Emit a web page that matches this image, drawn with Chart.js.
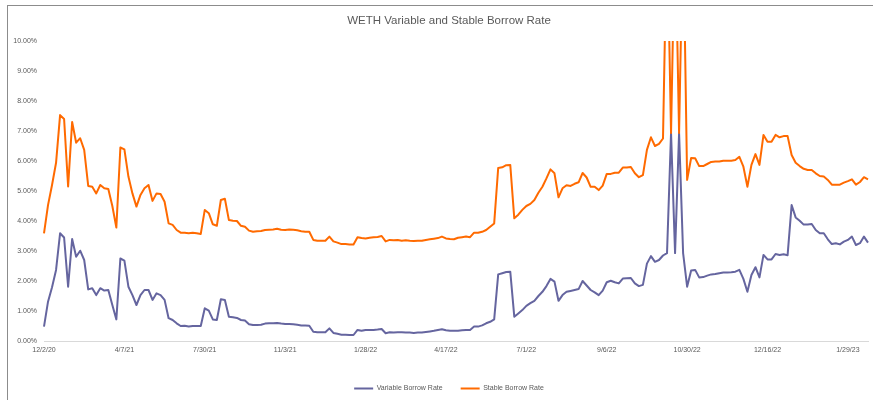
<!DOCTYPE html>
<html>
<head>
<meta charset="utf-8">
<script src="https://cdn.jsdelivr.net/npm/chart.js@4.4.0/dist/chart.umd.min.js"></script>
<style>
  html, body { margin: 0; padding: 0; background: #fff; overflow: hidden; width: 873px; height: 400px; }
  #wrap { position: absolute; left: 0; top: 0; width: 890px; height: 402px; }
  #frame { position: absolute; left: 7px; top: 5px; width: 900px; height: 420px; border: 1px solid #8c8c8c; pointer-events: none; }
</style>
</head>
<body>
<div id="wrap"><canvas id="rateChart" width="890" height="402"></canvas></div>
<div id="frame"></div>
<script>
// tick labels shown under the axis, one every STEP samples
const tickLabels = ["12/2/20", "4/7/21", "7/30/21", "11/3/21", "1/28/22", "4/17/22",
    "7/1/22", "9/6/22", "10/30/22", "12/16/22", "1/29/23"];
const STEP = 20;

// rates in %
const variableRate = [
    0.48, 1.31, 1.79, 2.37, 3.59, 3.45, 1.81, 3.40, 2.81, 3.01,
    2.70, 1.72, 1.76, 1.53, 1.76, 1.68, 1.70, 1.20, 0.72, 2.75,
    2.68, 1.81, 1.53, 1.20, 1.53, 1.70, 1.70, 1.37, 1.59, 1.53,
    1.37, 0.76, 0.70, 0.59, 0.50, 0.51, 0.48, 0.50, 0.50, 0.50,
    1.09, 1.01, 0.72, 0.70, 1.39, 1.37, 0.81, 0.79, 0.77, 0.70,
    0.68, 0.56, 0.53, 0.53, 0.54, 0.58, 0.59, 0.59, 0.60, 0.58,
    0.57, 0.57, 0.56, 0.54, 0.52, 0.52, 0.51, 0.31, 0.29, 0.29,
    0.29, 0.42, 0.27, 0.24, 0.21, 0.21, 0.20, 0.20, 0.37, 0.34,
    0.37, 0.37, 0.37, 0.38, 0.40, 0.26, 0.29, 0.28, 0.29, 0.29,
    0.28, 0.28, 0.27, 0.28, 0.28, 0.30, 0.32, 0.34, 0.37, 0.39,
    0.36, 0.34, 0.34, 0.34, 0.36, 0.37, 0.37, 0.48, 0.48, 0.52,
    0.59, 0.64, 0.72, 2.22, 2.26, 2.30, 2.31, 0.81, 0.92, 1.03,
    1.17, 1.26, 1.34, 1.50, 1.64, 1.83, 2.07, 1.98, 1.34, 1.53,
    1.64, 1.67, 1.70, 1.73, 2.00, 1.85, 1.70, 1.62, 1.53, 1.68,
    1.96, 2.01, 1.96, 1.92, 2.08, 2.09, 2.10, 1.92, 1.83, 1.87,
    2.58, 2.83, 2.64, 2.70, 2.85, 2.93, 6.93, 2.93, 6.93, 2.93,
    1.81, 2.35, 2.37, 2.12, 2.13, 2.18, 2.22, 2.23, 2.26, 2.28,
    2.28, 2.29, 2.31, 2.37, 2.07, 1.64, 2.20, 2.46, 2.12, 2.87,
    2.72, 2.72, 2.90, 2.87, 2.89, 2.86, 4.53, 4.12, 4.01, 3.88,
    3.88, 3.90, 3.70, 3.59, 3.59, 3.39, 3.23, 3.26, 3.22, 3.31,
    3.37, 3.48, 3.20, 3.26, 3.48, 3.28
];

const stableRate = [
    3.59, 4.53, 5.20, 5.94, 7.53, 7.40, 5.15, 7.30, 6.61, 6.76,
    6.37, 5.17, 5.14, 4.92, 5.20, 5.09, 5.07, 4.50, 3.78, 6.45,
    6.39, 5.48, 4.92, 4.48, 4.87, 5.09, 5.20, 4.67, 4.92, 4.90,
    4.64, 3.92, 3.87, 3.70, 3.61, 3.61, 3.59, 3.61, 3.59, 3.57,
    4.37, 4.26, 3.89, 3.84, 4.70, 4.74, 4.03, 4.01, 4.00, 3.84,
    3.81, 3.68, 3.64, 3.66, 3.67, 3.70, 3.71, 3.72, 3.74, 3.71,
    3.70, 3.72, 3.71, 3.69, 3.66, 3.64, 3.64, 3.37, 3.34, 3.34,
    3.34, 3.48, 3.32, 3.28, 3.23, 3.23, 3.22, 3.22, 3.46, 3.43,
    3.42, 3.44, 3.46, 3.47, 3.50, 3.32, 3.37, 3.36, 3.37, 3.34,
    3.36, 3.34, 3.33, 3.34, 3.34, 3.37, 3.39, 3.41, 3.43, 3.48,
    3.42, 3.40, 3.39, 3.44, 3.46, 3.48, 3.46, 3.61, 3.61, 3.64,
    3.70, 3.81, 3.92, 5.77, 5.79, 5.86, 5.87, 4.09, 4.21, 4.37,
    4.50, 4.57, 4.70, 4.94, 5.14, 5.42, 5.72, 5.59, 4.79, 5.09,
    5.19, 5.17, 5.24, 5.29, 5.60, 5.45, 5.14, 5.14, 5.03, 5.18,
    5.57, 5.57, 5.61, 5.61, 5.78, 5.78, 5.80, 5.59, 5.46, 5.53,
    6.37, 6.79, 6.50, 6.57, 6.75, 14.0, 6.93, 14.0, 6.93, 14.0,
    5.37, 6.10, 6.09, 5.83, 5.83, 5.90, 5.97, 5.98, 5.98, 6.01,
    6.01, 6.01, 6.03, 6.14, 5.81, 5.14, 5.87, 6.23, 5.87, 6.87,
    6.64, 6.64, 6.87, 6.79, 6.83, 6.83, 6.20, 5.94, 5.83, 5.74,
    5.70, 5.70, 5.59, 5.50, 5.48, 5.37, 5.21, 5.21, 5.21, 5.28,
    5.33, 5.39, 5.21, 5.30, 5.46, 5.39
];

// one category per sample, labelled only where a tick label sits
const categories = variableRate.map((v, i) => i % STEP === 0 ? tickLabels[i / STEP] : "");

const grey = "#595959";
const font = "'Liberation Sans', Arial, sans-serif";

const ctx = document.getElementById("rateChart");
new Chart(ctx, {
    type: "line",
    data: {
        labels: categories,
        datasets: [{
            label: "Variable Borrow Rate",
            data: variableRate,
            borderColor: "#65659f",
            backgroundColor: "#65659f",
            borderWidth: 2,
            order: 1
        }, {
            label: "Stable Borrow Rate",
            data: stableRate,
            borderColor: "#ff6a00",
            backgroundColor: "#ff6a00",
            borderWidth: 2,
            order: 0
        }]
    },
    options: {
        responsive: false,
        animation: false,
        devicePixelRatio: 1,
        layout: {padding: {left: 8, right: 0, top: 0, bottom: 0}},
        elements: {
            point: {radius: 0},
            line: {tension: 0, borderJoinStyle: "round"}
        },
        plugins: {
            title: {
                display: true,
                text: "WETH Variable and Stable Borrow Rate",
                color: grey,
                font: {family: font, size: 11.5, weight: "normal"},
                padding: {top: 13.8, bottom: 13.4}
            },
            legend: {
                position: "bottom",
                labels: {
                    color: grey,
                    font: {family: font, size: 7},
                    usePointStyle: true,
                    pointStyle: "line",
                    pointStyleWidth: 19,
                    padding: 18,
                    sort: (a, b) => a.datasetIndex - b.datasetIndex
                }
            },
            tooltip: {enabled: false}
        },
        scales: {
            x: {
                grid: {display: false, drawTicks: false},
                border: {display: true, color: "#d9d9d9", width: 1},
                ticks: {
                    autoSkip: false,
                    maxRotation: 0,
                    padding: 5,
                    color: grey,
                    font: {family: font, size: 7},
                    callback: (v, i) => categories[i] || null
                },
                afterFit: s => { s.height = 26; }
            },
            y: {
                min: 0,
                max: 10,
                grid: {display: false, drawTicks: false},
                border: {display: false},
                ticks: {
                    stepSize: 1,
                    padding: 7,
                    color: grey,
                    font: {family: font, size: 7},
                    callback: v => v.toFixed(2) + "%"
                },
                afterFit: s => { s.width = 36; }
            },
            right: {
                position: "right",
                grid: {display: false, drawTicks: false},
                border: {display: false},
                ticks: {display: false},
                afterFit: s => { s.width = 22; }
            }
        }
    }
});
</script>
</body>
</html>
